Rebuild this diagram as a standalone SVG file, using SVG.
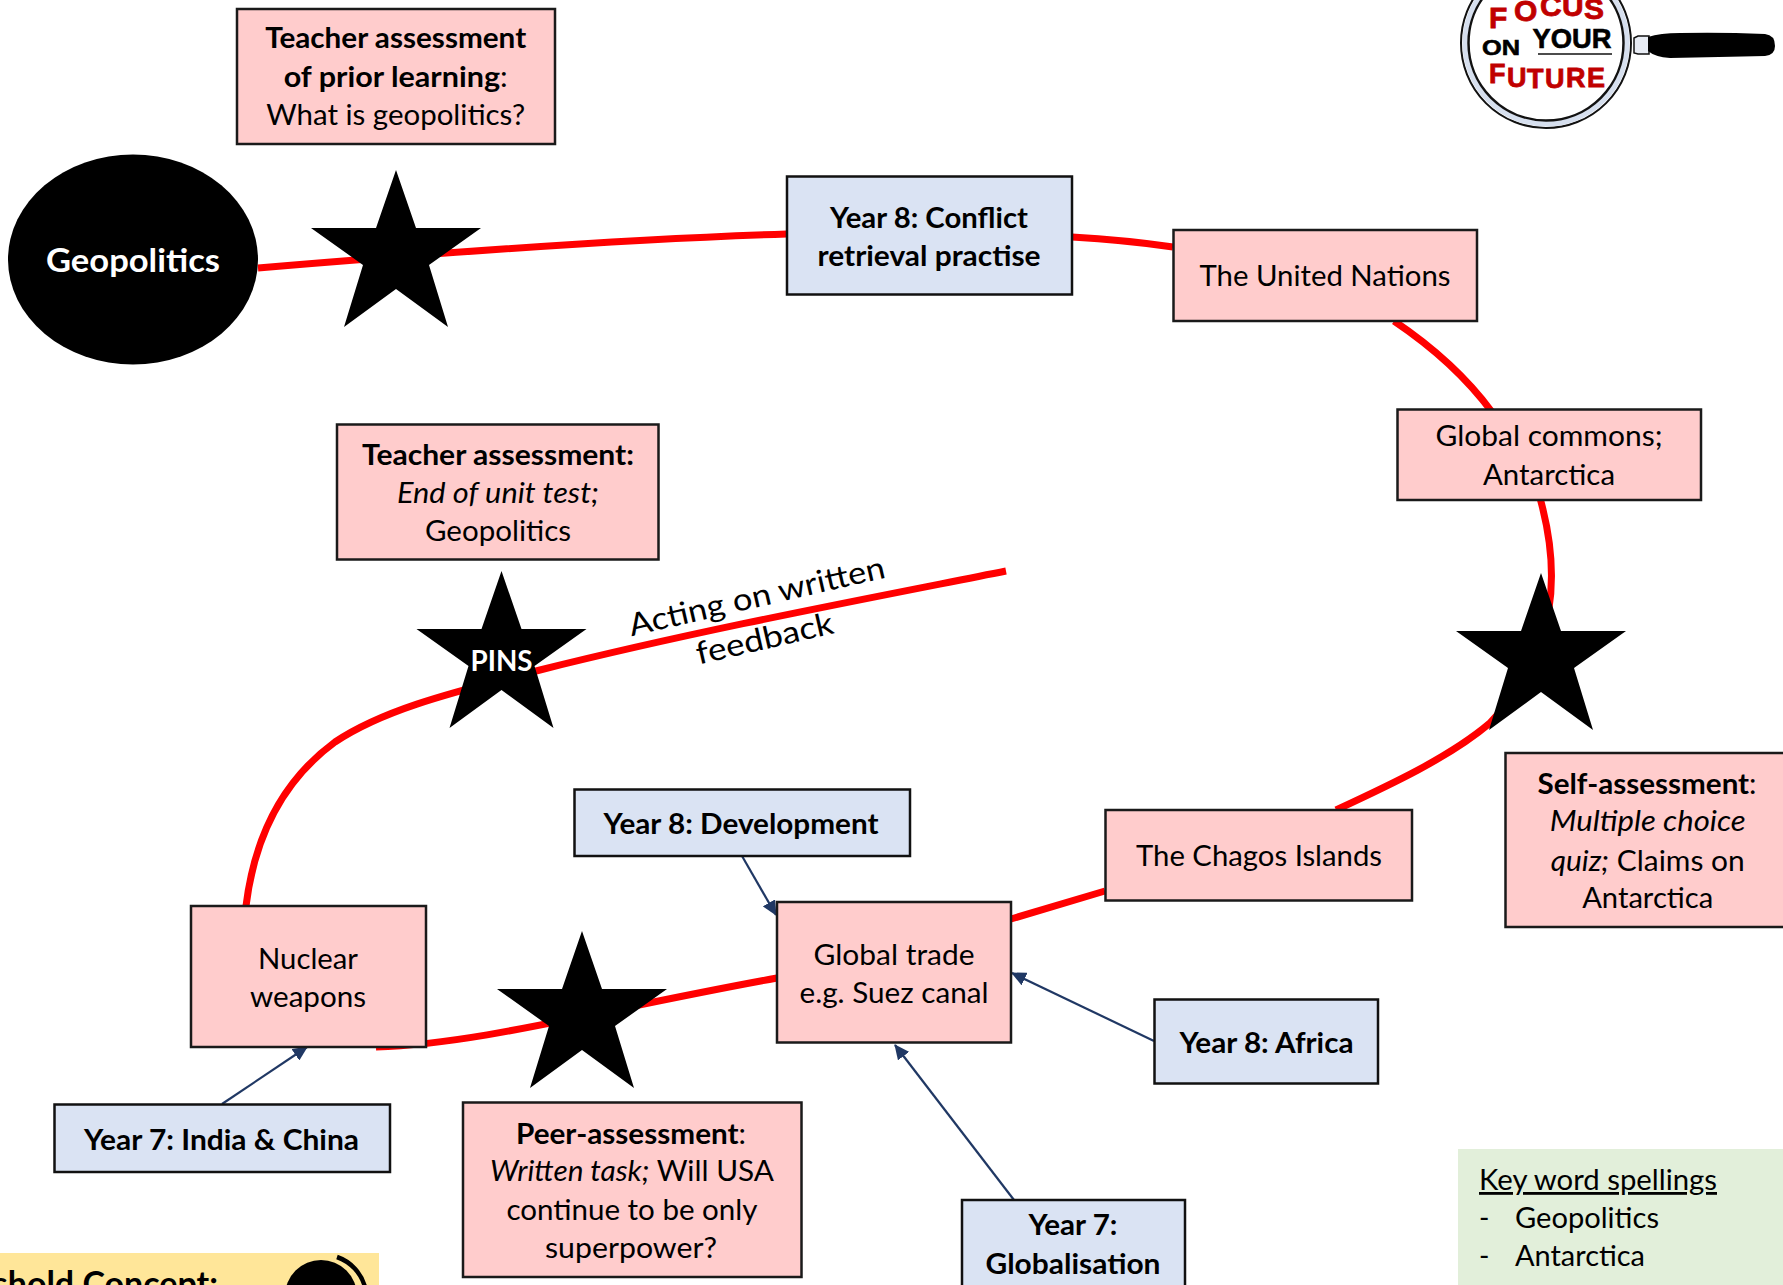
<svg xmlns="http://www.w3.org/2000/svg" width="1783" height="1285" viewBox="0 0 1783 1285">
<style>
text{font-family:Lato,"Open Sans","Liberation Sans",sans-serif;font-size:28px;fill:#000;text-anchor:middle}
.b{font-weight:700}.i{font-style:italic}.w{fill:#fff}
.s{text-anchor:start}
.pink{fill:#FFCCCC;stroke:#1a1a1a;stroke-width:2.5}
.blue{fill:#DAE3F3;stroke:#111;stroke-width:2.5}
.red{fill:none;stroke:#FF0000;stroke-width:7}
.arr{fill:none;stroke:#203864;stroke-width:2.2;marker-end:url(#ah)}
text.logo{font-family:"Liberation Sans",sans-serif;font-weight:700}
text.rt{font-size:31px}
text.lr{fill:#C00000;stroke:#C00000;stroke-width:.8;text-anchor:start}
</style>
<defs>
<marker id="ah" markerUnits="userSpaceOnUse" markerWidth="15" markerHeight="14" refX="14" refY="7" orient="auto"><path d="M0 0L15 7L0 14Z" fill="#203864"/></marker>
<polygon id="star" points="0,0 20,58 85,58 33,95 52,157 0,119 -52,157 -33,95 -85,58 -20,58"/>
</defs>
<rect width="1783" height="1285" fill="#fff"/>
<g id="connectors">
<path class="red" d="M258 268C400 256 600 240 787 234"/>
<path class="red" d="M1072 237Q1125 240 1173 247"/>
<path class="red" d="M1394 321Q1455 362 1492 412"/>
<path class="red" d="M1540 498C1560 570 1560 650 1490 723C1450 757 1390 785 1336 810"/>
<path class="red" d="M1011 919L1105 891"/>
<path class="red" d="M376 1047C480 1044 600 1010 777 978"/>
<path class="red" d="M246 906C256 825 290 775 335 742C380 712 440 695 540 670C700 630 860 600 1006 571"/>
<path class="arr" d="M742 856L776 915"/>
<path class="arr" d="M1154 1041L1012 973"/>
<path class="arr" d="M1014 1200L895 1045"/>
<path class="arr" d="M222 1104L307 1047"/>
</g>
<g id="geopolitics"><ellipse cx="133" cy="259.500" rx="125" ry="105"/><text class="b w" x="133" y="272" style="font-size:32px" textLength="174" lengthAdjust="spacingAndGlyphs">Geopolitics</text></g>
<g id="star-1"><use href="#star" x="396" y="170"/></g>
<g id="star-pins"><use href="#star" x="501.500" y="571"/><text class="b w" x="501.500" y="671" textLength="62" lengthAdjust="spacingAndGlyphs">PINS</text></g>
<g id="star-3"><use href="#star" x="1541" y="573"/></g>
<g id="star-4"><use href="#star" x="582" y="931"/></g>
<g id="prior-learning"><rect class="pink" x="237" y="9" width="318" height="135"/>
<text class="b" x="395.700" y="48" textLength="261" lengthAdjust="spacingAndGlyphs">Teacher assessment</text>
<text x="395.700" y="87" textLength="224" lengthAdjust="spacingAndGlyphs"><tspan class="b">of prior learning</tspan>:</text>
<text x="395.700" y="125" textLength="259" lengthAdjust="spacingAndGlyphs">What is geopolitics?</text></g>
<g id="conflict"><rect class="blue" x="787" y="176.500" width="285" height="118"/>
<text class="b" x="929" y="227.500" textLength="198" lengthAdjust="spacingAndGlyphs">Year 8: Conflict</text>
<text class="b" x="929" y="266" textLength="223" lengthAdjust="spacingAndGlyphs">retrieval practise</text></g>
<g id="united-nations"><rect class="pink" x="1173.500" y="230" width="303.500" height="91"/>
<text x="1325" y="286" textLength="251" lengthAdjust="spacingAndGlyphs">The United Nations</text></g>
<g id="global-commons"><rect class="pink" x="1397.500" y="409.500" width="303.500" height="90.500"/>
<text x="1549" y="446" textLength="227" lengthAdjust="spacingAndGlyphs">Global commons;</text>
<text x="1549" y="484.500" textLength="132" lengthAdjust="spacingAndGlyphs">Antarctica</text></g>
<g id="end-of-unit"><rect class="pink" x="337" y="424.500" width="321.500" height="135"/>
<text class="b" x="498" y="464.500" textLength="272" lengthAdjust="spacingAndGlyphs">Teacher assessment:</text>
<text class="i" x="498" y="502.500" textLength="202" lengthAdjust="spacingAndGlyphs">End of unit test;</text>
<text x="498" y="541" textLength="146" lengthAdjust="spacingAndGlyphs">Geopolitics</text></g>
<g id="self-assessment"><rect class="pink" x="1505.500" y="753" width="290" height="174"/>
<text x="1647" y="794" textLength="219" lengthAdjust="spacingAndGlyphs"><tspan class="b">Self-assessment</tspan>:</text>
<text class="i" x="1647.700" y="831" textLength="196" lengthAdjust="spacingAndGlyphs">Multiple choice</text>
<text x="1647.700" y="870.500" textLength="194" lengthAdjust="spacingAndGlyphs"><tspan class="i">quiz;</tspan> Claims on</text>
<text x="1647.700" y="908" textLength="131" lengthAdjust="spacingAndGlyphs">Antarctica</text></g>
<g id="chagos"><rect class="pink" x="1105.500" y="810" width="306.500" height="90.500"/>
<text x="1259" y="866" textLength="246" lengthAdjust="spacingAndGlyphs">The Chagos Islands</text></g>
<g id="development"><rect class="blue" x="574.500" y="789.500" width="335.500" height="66.500"/>
<text class="b" x="741" y="834" textLength="275" lengthAdjust="spacingAndGlyphs">Year 8: Development</text></g>
<g id="global-trade"><rect class="pink" x="777" y="902" width="234" height="140.500"/>
<text x="894" y="965" textLength="161" lengthAdjust="spacingAndGlyphs">Global trade</text>
<text x="894" y="1003" textLength="189" lengthAdjust="spacingAndGlyphs">e.g. Suez canal</text></g>
<g id="nuclear"><rect class="pink" x="191" y="906" width="235" height="141"/>
<text x="308" y="969" textLength="100" lengthAdjust="spacingAndGlyphs">Nuclear</text>
<text x="308" y="1006.500" textLength="116" lengthAdjust="spacingAndGlyphs">weapons</text></g>
<g id="africa"><rect class="blue" x="1154.500" y="999.500" width="223.500" height="84"/>
<text class="b" x="1266.500" y="1053" textLength="174" lengthAdjust="spacingAndGlyphs">Year 8: Africa</text></g>
<g id="india-china"><rect class="blue" x="54.500" y="1104.500" width="335.500" height="67.500"/>
<text class="b" x="221.500" y="1150" textLength="275" lengthAdjust="spacingAndGlyphs">Year 7: India &amp; China</text></g>
<g id="peer-assessment"><rect class="pink" x="463" y="1102.500" width="338.500" height="174.500"/>
<text x="631" y="1144" textLength="230" lengthAdjust="spacingAndGlyphs"><tspan class="b">Peer-assessment</tspan>:</text>
<text x="632" y="1181" textLength="284" lengthAdjust="spacingAndGlyphs"><tspan class="i">Written task;</tspan> Will USA</text>
<text x="632" y="1220" textLength="251" lengthAdjust="spacingAndGlyphs">continue to be only</text>
<text x="631" y="1258" textLength="172" lengthAdjust="spacingAndGlyphs">superpower?</text></g>
<g id="globalisation"><rect class="blue" x="962" y="1200" width="223" height="95"/>
<text class="b" x="1073" y="1234.500" textLength="89" lengthAdjust="spacingAndGlyphs">Year 7:</text>
<text class="b" x="1073" y="1274" textLength="175" lengthAdjust="spacingAndGlyphs">Globalisation</text></g>
<g id="feedback-label">
<text class="rt" transform="translate(757 598) rotate(-13)" y="9" textLength="262" lengthAdjust="spacingAndGlyphs">Acting on written</text>
<text class="rt" transform="translate(765 640) rotate(-13)" y="9" textLength="140" lengthAdjust="spacingAndGlyphs">feedback</text></g>
<g id="threshold"><rect x="0" y="1253" width="379" height="40" fill="#FFE699"/>
<text class="b" x="218" y="1296" style="text-anchor:end;font-size:34px">Threshold Concept:</text>
<circle cx="321" cy="1296" r="36"/>
<path d="M337 1257A44 44 0 0 1 365 1287" fill="none" stroke="#000" stroke-width="4.500"/></g>
<g id="key-words"><rect x="1458" y="1149" width="325" height="140" fill="#E2EFDA"/>
<text class="s" x="1479" y="1190" text-decoration="underline" textLength="238" lengthAdjust="spacingAndGlyphs">Key word spellings</text>
<text class="s" x="1479" y="1228">-</text><text class="s" x="1515" y="1228" textLength="144" lengthAdjust="spacingAndGlyphs">Geopolitics</text>
<text class="s" x="1479" y="1266">-</text><text class="s" x="1515" y="1266" textLength="130" lengthAdjust="spacingAndGlyphs">Antarctica</text></g>
<g id="logo">
<path d="M1634 38l4-2h11v18h-11l-4-1z" fill="#e8ecf4" stroke="#111" stroke-width="1.500"/>
<path d="M1648 37Q1660 33 1680 33Q1720 32 1765 34Q1775 35 1775 46Q1775 55 1765 56Q1720 57 1670 58Q1655 57 1648 51Z"/>
<circle cx="1546" cy="43" r="85" fill="#fff" stroke="#111" stroke-width="2"/>
<circle cx="1546" cy="43" r="81" fill="#fff" stroke="#D6DFEE" stroke-width="5"/>
<circle cx="1546" cy="43" r="77.500" fill="none" stroke="#111" stroke-width="2.500"/>
<text class="logo lr" x="1489 1514 1540 1562 1584" y="28 21 16 16 19" style="font-size:30px">FOCUS</text>
<text class="logo" x="1501" y="55" style="font-size:22px;stroke:#000;stroke-width:.6" textLength="38" lengthAdjust="spacingAndGlyphs">ON</text>
<text class="logo" x="1572" y="48" style="font-size:27px;stroke:#000;stroke-width:.6" textLength="79" lengthAdjust="spacingAndGlyphs">YOUR</text>
<path d="M1538 54H1612" stroke="#111" stroke-width="1.500"/>
<text class="logo lr" x="1489 1507 1527 1545 1566 1587" y="83 87 88 88 87 87" style="font-size:27px">FUTURE</text>
</g>
</svg>
